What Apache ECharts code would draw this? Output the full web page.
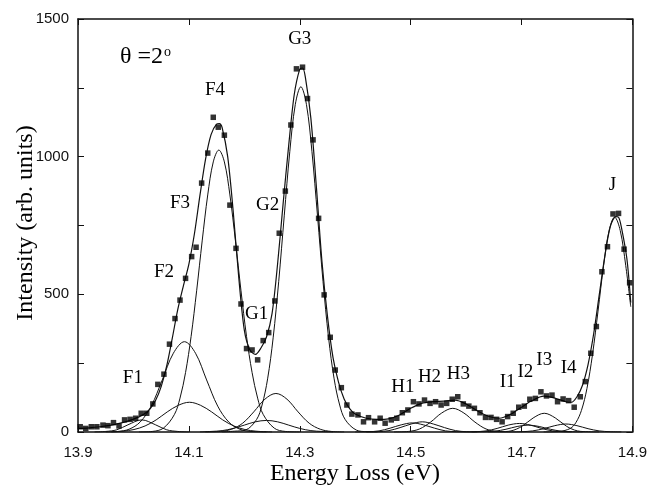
<!DOCTYPE html>
<html>
<head>
<meta charset="utf-8">
<script src="https://cdn.jsdelivr.net/npm/echarts@6/dist/echarts.min.js"></script>
<style>html,body{margin:0;padding:0;background:#fff;}#chart{width:650px;height:491px;}</style>
</head>
<body>
<div id="chart"></div>
<script>
// ---- data ----
const xTicks = [13.9, 14.1, 14.3, 14.5, 14.7, 14.9];
const yTicks = [0, 500, 1000, 1500];

// measured points (energy eV, intensity)
const measured = [
[13.904,19],[13.914,13],[13.924,19],[13.934,19],[13.945,25],[13.954,23],[13.964,34],[13.974,22],
[13.984,44],[13.994,46],[14.004,50],[14.014,68],[14.024,68],[14.035,102],[14.044,173],[14.055,210],
[14.065,319],[14.075,412],[14.084,479],[14.094,558],[14.105,637],[14.113,671],[14.123,904],[14.134,1013],
[14.144,1143],[14.153,1107],[14.164,1078],[14.174,824],[14.185,667],[14.194,465],[14.204,303],[14.214,298],
[14.224,262],[14.234,332],[14.244,361],[14.255,476],[14.263,722],[14.274,875],[14.284,1115],[14.294,1319],
[14.305,1325],[14.314,1211],[14.324,1061],[14.334,776],[14.344,498],[14.355,344],[14.364,225],[14.375,161],
[14.385,98],[14.394,65],[14.405,62],[14.415,37],[14.424,52],[14.435,37],[14.445,50],[14.454,32],
[14.465,44],[14.475,50],[14.485,70],[14.495,80],[14.505,110],[14.515,102],[14.525,116],[14.535,104],
[14.545,110],[14.555,98],[14.565,104],[14.575,119],[14.585,128],[14.595,102],[14.605,94],[14.615,86],
[14.625,70],[14.635,53],[14.645,53],[14.655,46],[14.665,37],[14.675,56],[14.685,68],[14.695,90],
[14.705,94],[14.715,119],[14.725,122],[14.735,146],[14.745,131],[14.755,134],[14.765,110],[14.775,120],
[14.785,114],[14.795,90],[14.806,128],[14.815,183],[14.825,286],[14.835,383],[14.845,582],[14.855,673],
[14.865,792],[14.875,794],[14.885,664],[14.895,542]
];

// total fit curve
const fitCurve = [
[13.90,13],[13.92,15],[13.94,19],[13.96,25],[13.98,34],[14.00,47],[14.01,55],[14.02,66],[14.03,84],
[14.04,115],[14.05,165],[14.06,240],[14.07,340],[14.08,445],[14.09,530],[14.10,610],[14.11,720],
[14.12,860],[14.13,990],[14.14,1080],[14.15,1118],[14.155,1120],[14.16,1105],[14.17,1000],[14.18,800],
[14.19,560],[14.20,370],[14.21,298],[14.22,282],[14.23,305],[14.24,345],[14.25,430],[14.26,610],
[14.27,830],[14.28,1040],[14.29,1225],[14.30,1318],[14.305,1322],[14.31,1290],[14.32,1140],[14.33,890],
[14.34,620],[14.35,420],[14.36,270],[14.37,180],[14.38,120],[14.39,85],[14.40,65],[14.42,50],
[14.44,46],[14.46,48],[14.48,62],[14.50,86],[14.52,104],[14.54,110],[14.56,112],[14.58,116],
[14.60,102],[14.62,77],[14.64,57],[14.66,50],[14.68,64],[14.70,90],[14.72,115],[14.74,130],
[14.76,123],[14.78,110],[14.79,108],[14.80,128],[14.81,170],[14.82,245],[14.83,355],[14.84,495],
[14.85,635],[14.86,745],[14.87,782],[14.875,780],[14.88,745],[14.89,630],[14.897,470]
];

// fitted components
const compF1 = [[13.93,0],[13.95,2],[13.97,8],[13.99,26],[14.015,44],[14.04,26],[14.06,8],[14.08,2],[14.10,0]];
const compF2 = [[13.95,0],[13.972,2],[13.992,10],[14.012,36],[14.032,94],[14.052,189],[14.072,286],[14.092,328],
  [14.112,286],[14.132,189],[14.152,94],[14.172,36],[14.192,10],[14.212,2],[14.24,0]];
const compF3 = [[13.96,0],[13.981,3],[14.001,9],[14.021,22],[14.041,44],[14.061,73],[14.081,97],[14.101,108],
  [14.121,97],[14.141,73],[14.161,44],[14.181,22],[14.201,9],[14.221,3],[14.25,0]];
const compF4 = [[14.01,0],[14.034,2],[14.054,14],[14.074,64],[14.084,123],[14.094,216],[14.104,347],[14.114,513],
  [14.124,694],[14.134,861],[14.144,981],[14.154,1024],[14.164,981],[14.174,861],[14.184,694],[14.194,513],
  [14.204,347],[14.214,216],[14.224,123],[14.234,64],[14.254,14],[14.274,2],[14.30,0]];
const compG1 = [[14.12,0],[14.14,2],[14.16,5],[14.18,13],[14.20,25],[14.22,37],[14.24,42],[14.26,37],[14.28,25],
  [14.30,13],[14.32,5],[14.34,2],[14.36,0]];
const compG2 = [[14.13,0],[14.157,2],[14.177,10],[14.197,32],[14.217,73],[14.237,119],[14.257,140],[14.277,119],
  [14.297,73],[14.317,32],[14.337,10],[14.357,2],[14.38,0]];
const compG3 = [[14.16,0],[14.182,3],[14.202,7],[14.222,45],[14.232,98],[14.242,193],[14.252,342],[14.262,546],
  [14.272,785],[14.282,1018],[14.292,1190],[14.302,1254],[14.312,1190],[14.322,1018],[14.332,785],[14.342,546],
  [14.352,342],[14.362,193],[14.372,98],[14.382,45],[14.402,7],[14.422,1],[14.44,0]];
const compH1 = [[14.40,0],[14.423,1],[14.443,4],[14.463,14],[14.483,26],[14.503,33],[14.523,26],[14.543,14],[14.563,4],[14.583,1],[14.60,0]];
const compH2 = [[14.42,0],[14.441,1],[14.461,5],[14.481,16],[14.501,29],[14.521,37],[14.541,29],[14.561,16],[14.581,5],[14.601,1],[14.62,0]];
const compH3 = [[14.47,0],[14.496,2],[14.516,11],[14.536,36],[14.556,69],[14.576,86],[14.596,69],[14.616,36],[14.636,11],[14.656,2],[14.68,0]];
const compI1 = [[14.60,0],[14.616,1],[14.636,4],[14.656,13],[14.676,25],[14.696,31],[14.716,25],[14.736,13],[14.756,4],[14.776,1],[14.79,0]];
const compI2 = [[14.61,0],[14.632,1],[14.652,3],[14.672,10],[14.692,20],[14.712,25],[14.732,20],[14.752,10],[14.772,3],[14.792,1],[14.81,0]];
const compI3 = [[14.64,0],[14.661,1],[14.681,4],[14.701,21],[14.721,51],[14.741,68],[14.761,51],[14.781,21],[14.801,4],[14.821,1],[14.84,0]];
const compI4 = [[14.68,0],[14.70,1],[14.72,4],[14.74,12],[14.76,23],[14.78,29],[14.80,23],[14.82,12],[14.84,4],[14.86,1],[14.88,0]];
const compJ = [[14.74,0],[14.768,2],[14.788,13],[14.798,34],[14.808,78],[14.818,158],[14.828,281],[14.838,439],
  [14.848,604],[14.858,732],[14.868,780],[14.878,732],[14.888,604],[14.897,455]];

const components = [compF1, compF2, compF3, compF4, compG1, compG2, compG3, compH1, compH2, compH3, compI1, compI2, compI3, compI4, compJ];

// peak labels: [text, energy, intensity]
const peakLabels = [
  ['F1', 13.999, 195], ['F2', 14.055, 580], ['F3', 14.084, 830], ['F4', 14.147, 1243],
  ['G1', 14.222, 430], ['G2', 14.242, 823], ['G3', 14.3, 1428],
  ['H1', 14.486, 163], ['H2', 14.534, 200], ['H3', 14.586, 211],
  ['I1', 14.675, 182], ['I2', 14.707, 218], ['I3', 14.741, 262], ['I4', 14.785, 232], ['J', 14.864, 897]
];

// ---- chart ----
const chart = echarts.init(document.getElementById('chart'), null, {renderer: 'canvas'});
const serif = '"Liberation Serif", "Times New Roman", serif';
const sans = '"Liberation Sans", Arial, sans-serif';
const X0 = 78, X1 = 633, Y0 = 432, Y1 = 19;

const series = [];
components.forEach(c => series.push({
  type: 'line', data: c, smooth: 0.35, symbol: 'none',
  lineStyle: {color: '#111', width: 1}, silent: true, z: 2
}));
series.push({type: 'line', data: fitCurve, smooth: 0.3, symbol: 'none',
  lineStyle: {color: '#111', width: 1.2}, silent: true, z: 3});
series.push({type: 'scatter', data: measured, symbol: 'rect', symbolSize: 5.5,
  itemStyle: {color: '#000'}, silent: true, z: 4});
// peak labels placed in data coordinates
series.push({type: 'scatter', data: peakLabels.map(l => ({value: [l[1], l[2]], name: l[0]})),
  symbolSize: 0, silent: true, z: 5, itemStyle: {color: '#000', opacity: 1},
  label: {show: true, position: 'inside', formatter: p => p.name,
    fontFamily: serif, fontSize: 19, color: '#000', textBorderWidth: 0, textBorderColor: 'transparent', opacity: 1}});

const axisCommon = {
  min: 13.9, max: 14.9, interval: 0.2, type: 'value',
  axisLine: {show: true, onZero: false, lineStyle: {color: '#111', width: 1.5}},
  axisTick: {show: true, inside: true, length: 6, lineStyle: {color: '#111', width: 1}},
  splitLine: {show: false}
};
const yCommon = {
  min: 0, max: 1500, interval: 250, type: 'value',
  axisLine: {show: true, onZero: false, lineStyle: {color: '#111', width: 1.5}},
  axisTick: {show: true, inside: true, length: 6, lineStyle: {color: '#111', width: 1}},
  splitLine: {show: false}
};

const graphics = [];
graphics.push({type: 'text', x: 120, y: 45,
  style: {text: '{a|θ =2}{b|o}', rich: {a: {font: '24px ' + serif, fill: '#000'}, b: {font: '14px ' + serif, fill: '#000', verticalAlign: 'top', padding: [0,0,10,1]}}}});
graphics.push({type: 'text', x: 26, y: 223, rotation: Math.PI / 2,
  style: {text: 'Intensity (arb. units)', font: '24px ' + serif, fill: '#000', textAlign: 'center', textVerticalAlign: 'middle'}});
graphics.push({type: 'text', x: 355, y: 474,
  style: {text: 'Energy Loss (eV)', font: '24px ' + serif, fill: '#000', textAlign: 'center', textVerticalAlign: 'middle'}});

chart.setOption({
  animation: false,
  backgroundColor: '#fff',
  grid: {left: X0, right: 650 - X1, top: Y1, bottom: 491 - Y0, containLabel: false},
  xAxis: [
    Object.assign({}, axisCommon, {position: 'bottom',
      axisLabel: {show: true, margin: 13, fontFamily: sans, fontSize: 15, color: '#111',
        formatter: v => { const t = xTicks.find(k => Math.abs(k - v) < 1e-6); return t !== undefined ? t.toFixed(1) : ''; }}}),
    Object.assign({}, axisCommon, {position: 'top', axisLabel: {show: false}})
  ],
  yAxis: [
    Object.assign({}, yCommon, {position: 'left',
      axisLabel: {show: true, margin: 9, fontFamily: sans, fontSize: 15, color: '#111',
        formatter: v => yTicks.indexOf(Math.round(v)) >= 0 ? String(Math.round(v)) : ''}}),
    Object.assign({}, yCommon, {position: 'right', axisLabel: {show: false}})
  ],
  series: series,
  graphic: graphics
});
</script>
</body>
</html>
